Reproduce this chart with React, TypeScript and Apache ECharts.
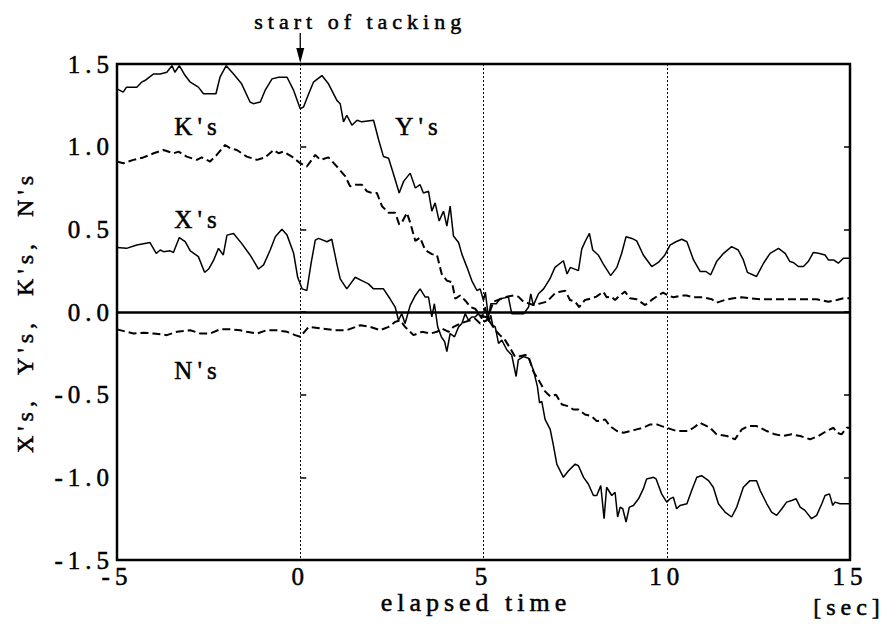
import React, { useEffect, useRef } from 'react';
import * as echarts from 'echarts';

// time [sec] and value pairs
const yData: [number, number][] = [
  [-5, 1.35], [-4.83, 1.33], [-4.74, 1.36], [-4.46, 1.36], [-4.33, 1.39], [-4.24, 1.4], [-4.0, 1.44], [-3.82, 1.44],
  [-3.64, 1.45], [-3.5, 1.49], [-3.42, 1.45], [-3.3, 1.49], [-3.14, 1.43], [-3.0, 1.39], [-2.78, 1.36], [-2.64, 1.32],
  [-2.3, 1.32], [-2.19, 1.42], [-2.02, 1.49], [-1.82, 1.44], [-1.6, 1.38], [-1.37, 1.27], [-1.28, 1.26], [-1.09, 1.27],
  [-0.96, 1.34], [-0.77, 1.41], [-0.59, 1.42], [-0.36, 1.42], [-0.18, 1.34], [0, 1.23], [0.09, 1.24], [0.23, 1.32],
  [0.36, 1.39], [0.59, 1.43], [0.77, 1.38], [1.0, 1.28], [1.09, 1.26], [1.18, 1.15], [1.27, 1.19], [1.41, 1.13],
  [1.55, 1.16], [1.68, 1.15], [2.0, 1.16], [2.14, 1.04], [2.27, 0.94], [2.41, 0.93], [2.55, 0.83], [2.7, 0.72],
  [2.82, 0.79], [3.0, 0.84], [3.14, 0.75], [3.27, 0.77], [3.36, 0.72], [3.5, 0.73], [3.59, 0.61], [3.68, 0.66],
  [3.79, 0.55], [3.91, 0.61], [4.0, 0.52], [4.09, 0.64], [4.18, 0.46], [4.32, 0.42], [4.41, 0.35], [4.55, 0.27],
  [4.68, 0.19], [4.82, 0.13], [4.91, 0.14], [5.0, 0.07], [5.05, 0.12], [5.1, 0.03], [5.15, -0.06], [5.2, -0.02],
  [5.25, -0.08], [5.32, -0.09], [5.41, -0.19], [5.5, -0.17], [5.64, -0.23], [5.77, -0.26], [5.89, -0.39], [5.95, -0.29],
  [6.09, -0.27], [6.23, -0.28], [6.36, -0.35], [6.47, -0.45], [6.53, -0.55], [6.59, -0.54], [6.68, -0.65], [6.82, -0.71],
  [6.91, -0.81], [7.0, -0.92], [7.18, -1.0], [7.32, -0.96], [7.5, -0.92], [7.59, -0.93], [7.73, -1.0], [7.86, -1.04],
  [8.0, -1.11], [8.09, -1.11], [8.2, -1.05], [8.29, -1.25], [8.36, -1.06], [8.5, -1.11], [8.59, -1.09], [8.66, -1.24],
  [8.73, -1.18], [8.8, -1.19], [8.89, -1.27], [8.98, -1.18], [9.09, -1.17], [9.23, -1.13], [9.36, -1.07], [9.45, -1.01],
  [9.64, -1.0], [9.71, -1.01], [9.86, -1.1], [10.0, -1.15], [10.09, -1.13], [10.18, -1.12], [10.27, -1.19], [10.36, -1.17],
  [10.55, -1.16], [10.68, -1.08], [10.82, -1.0], [10.95, -0.99], [11.14, -1.02], [11.27, -1.06], [11.41, -1.16], [11.59, -1.21],
  [11.77, -1.24], [11.91, -1.18], [12.09, -1.06], [12.27, -1.02], [12.45, -1.02], [12.55, -1.08], [12.73, -1.16], [12.86, -1.21],
  [13.0, -1.23], [13.14, -1.19], [13.27, -1.15], [13.41, -1.14], [13.53, -1.13], [13.64, -1.18], [13.77, -1.2], [13.95, -1.25],
  [14.09, -1.23], [14.23, -1.16], [14.32, -1.11], [14.44, -1.1], [14.53, -1.17], [14.59, -1.15], [14.73, -1.16], [15, -1.16],
];

const kData: [number, number][] = [
  [-5, 0.91], [-4.83, 0.9], [-4.55, 0.92], [-4.28, 0.935], [-4.0, 0.96], [-3.73, 0.98], [-3.46, 0.96], [-3.32, 0.97],
  [-3.1, 0.94], [-2.82, 0.92], [-2.69, 0.935], [-2.46, 0.91], [-2.28, 0.95], [-2.05, 1.01], [-1.91, 0.99], [-1.73, 0.98],
  [-1.46, 0.94], [-1.18, 0.92], [-0.96, 0.935], [-0.73, 0.98], [-0.59, 0.96], [-0.46, 0.97], [-0.23, 0.94], [0, 0.9],
  [0.18, 0.88], [0.41, 0.95], [0.55, 0.92], [0.77, 0.935], [1.0, 0.88], [1.23, 0.82], [1.36, 0.76], [1.5, 0.77],
  [1.68, 0.77], [1.82, 0.73], [1.95, 0.72], [2.09, 0.72], [2.23, 0.64], [2.41, 0.6], [2.59, 0.6], [2.7, 0.53],
  [2.77, 0.54], [2.91, 0.6], [3.0, 0.54], [3.14, 0.43], [3.27, 0.45], [3.41, 0.375], [3.59, 0.35], [3.73, 0.345],
  [3.86, 0.23], [4.0, 0.19], [4.14, 0.18], [4.23, 0.08], [4.36, 0.1], [4.5, 0.07], [4.64, 0.03], [4.77, 0.02],
  [4.91, -0.02], [5.05, -0.03], [5.09, -0.03], [5.32, -0.11], [5.45, -0.14], [5.59, -0.17], [5.73, -0.22], [5.86, -0.27],
  [5.95, -0.27], [6.14, -0.26], [6.23, -0.27], [6.36, -0.36], [6.5, -0.41], [6.68, -0.48], [6.82, -0.51], [6.98, -0.5],
  [7.14, -0.56], [7.32, -0.57], [7.45, -0.59], [7.59, -0.59], [7.77, -0.62], [7.95, -0.63], [8.09, -0.66], [8.32, -0.65],
  [8.45, -0.69], [8.64, -0.72], [8.82, -0.73], [9.0, -0.72], [9.18, -0.71], [9.36, -0.7], [9.55, -0.68], [9.73, -0.68],
  [9.86, -0.69], [10.0, -0.7], [10.27, -0.72], [10.59, -0.72], [10.73, -0.7], [10.91, -0.67], [11.18, -0.7], [11.36, -0.74],
  [11.64, -0.75], [11.86, -0.77], [12.05, -0.71], [12.23, -0.69], [12.45, -0.69], [12.73, -0.72], [12.95, -0.74], [13.18, -0.75],
  [13.41, -0.74], [13.64, -0.75], [13.91, -0.77], [14.14, -0.75], [14.36, -0.72], [14.55, -0.7], [14.64, -0.73], [14.77, -0.74],
  [14.91, -0.7], [15, -0.7],
];

const xData: [number, number][] = [
  [-5, 0.39], [-4.74, 0.385], [-4.46, 0.405], [-4.1, 0.42], [-3.93, 0.355], [-3.82, 0.375], [-3.73, 0.365], [-3.55, 0.37],
  [-3.46, 0.36], [-3.3, 0.45], [-3.14, 0.425], [-3.0, 0.37], [-2.78, 0.335], [-2.61, 0.24], [-2.5, 0.26], [-2.37, 0.31],
  [-2.23, 0.385], [-2.1, 0.345], [-2.0, 0.465], [-1.82, 0.475], [-1.6, 0.415], [-1.37, 0.345], [-1.14, 0.26], [-1.0, 0.285],
  [-0.82, 0.375], [-0.68, 0.455], [-0.5, 0.5], [-0.36, 0.465], [-0.18, 0.355], [-0.07, 0.21], [0.05, 0.14], [0.18, 0.13],
  [0.3, 0.3], [0.41, 0.435], [0.5, 0.445], [0.73, 0.425], [0.86, 0.44], [1.0, 0.29], [1.09, 0.2], [1.27, 0.14],
  [1.5, 0.21], [1.68, 0.19], [1.86, 0.17], [2.0, 0.14], [2.18, 0.14], [2.27, 0.14], [2.45, 0.08], [2.59, 0.03],
  [2.68, -0.05], [2.77, -0.01], [2.86, -0.07], [3.0, 0.04], [3.14, 0.1], [3.27, 0.14], [3.41, 0.09], [3.5, 0.09],
  [3.59, -0.03], [3.66, 0.05], [3.75, -0.09], [3.85, -0.15], [3.94, -0.18], [4.0, -0.24], [4.09, -0.13], [4.21, -0.15],
  [4.32, -0.09], [4.41, -0.07], [4.5, -0.01], [4.59, -0.05], [4.68, -0.03], [4.77, -0.03], [4.86, -0.01], [4.95, -0.04],
  [5.05, 0.03], [5.12, -0.05], [5.2, 0.05], [5.35, 0.05], [5.45, 0.08], [5.68, 0.09], [5.77, -0.01], [6.1, -0.01],
  [6.23, 0.03], [6.29, 0.11], [6.36, 0.04], [6.5, 0.11], [6.64, 0.14], [6.81, 0.2], [6.95, 0.27], [7.18, 0.31],
  [7.28, 0.23], [7.37, 0.27], [7.59, 0.25], [7.68, 0.38], [7.77, 0.425], [7.89, 0.475], [7.98, 0.375], [8.13, 0.345],
  [8.27, 0.29], [8.47, 0.22], [8.64, 0.27], [8.77, 0.355], [8.89, 0.455], [9.05, 0.445], [9.18, 0.43], [9.36, 0.345],
  [9.59, 0.275], [9.77, 0.3], [9.95, 0.345], [10.09, 0.405], [10.25, 0.425], [10.41, 0.44], [10.55, 0.425], [10.73, 0.315],
  [10.91, 0.245], [11.07, 0.245], [11.2, 0.225], [11.36, 0.305], [11.55, 0.355], [11.77, 0.395], [11.95, 0.375], [12.09, 0.315],
  [12.2, 0.24], [12.45, 0.215], [12.64, 0.295], [12.82, 0.355], [13.05, 0.385], [13.23, 0.355], [13.36, 0.305], [13.45, 0.3],
  [13.59, 0.275], [13.73, 0.275], [13.86, 0.305], [14.0, 0.36], [14.14, 0.355], [14.32, 0.345], [14.41, 0.315], [14.55, 0.315],
  [14.68, 0.295], [14.82, 0.325], [15, 0.325],
];

const nData: [number, number][] = [
  [-5, -0.105], [-4.74, -0.12], [-4.55, -0.13], [-4.28, -0.125], [-4.0, -0.13], [-3.64, -0.14], [-3.37, -0.12], [-3.0, -0.11],
  [-2.73, -0.13], [-2.46, -0.13], [-2.19, -0.105], [-1.91, -0.105], [-1.64, -0.11], [-1.46, -0.12], [-1.18, -0.13], [-0.91, -0.11],
  [-0.64, -0.11], [-0.36, -0.12], [-0.14, -0.14], [0, -0.15], [0.23, -0.09], [0.59, -0.1], [0.95, -0.11], [1.27, -0.11],
  [1.64, -0.08], [1.91, -0.09], [2.18, -0.11], [2.41, -0.09], [2.59, -0.06], [2.73, -0.05], [2.86, -0.09], [3.09, -0.14],
  [3.32, -0.12], [3.55, -0.13], [3.73, -0.12], [3.86, -0.1], [4.05, -0.12], [4.18, -0.09], [4.36, -0.07], [4.5, -0.06],
  [4.64, -0.05], [4.77, -0.04], [4.91, -0.07], [5.09, -0.05], [5.27, 0.0625], [5.45, 0.077], [5.64, 0.093], [5.82, 0.1],
  [5.95, 0.093], [6.09, 0.0625], [6.23, 0.052], [6.36, 0.042], [6.55, 0.052], [6.73, 0.0625], [6.95, 0.113], [7.09, 0.123],
  [7.23, 0.129], [7.36, 0.073], [7.5, 0.0625], [7.61, 0.03], [7.77, 0.073], [7.95, 0.083], [8.08, 0.093], [8.27, 0.123],
  [8.36, 0.089], [8.49, 0.093], [8.59, 0.073], [8.72, 0.1], [8.86, 0.123], [9.0, 0.083], [9.18, 0.077], [9.41, 0.042],
  [9.59, 0.073], [9.77, 0.1], [9.9, 0.117], [10.04, 0.1], [10.18, 0.089], [10.41, 0.1], [10.54, 0.1], [10.73, 0.089],
  [11.0, 0.089], [11.23, 0.077], [11.36, 0.056], [11.59, 0.073], [11.82, 0.083], [12.04, 0.089], [12.27, 0.083], [12.55, 0.077],
  [12.82, 0.077], [13.18, 0.077], [13.55, 0.077], [13.82, 0.077], [14.09, 0.077], [14.41, 0.0625], [14.64, 0.073], [14.82, 0.083],
  [15, 0.083],
];

const X_MIN = -5;
const X_MAX = 15;
const X_STEP = 5;
const Y_MIN = -1.5;
const Y_MAX = 1.5;
const Y_STEP = 0.5;
const TACK_START = 0;

const FONT = 'Liberation Serif';
const INK = { textBorderColor: '#000', textBorderWidth: 0.5 };

export default function App() {
  const ref = useRef<HTMLDivElement>(null);

  useEffect(() => {
    const el = ref.current!;
    const chart = echarts.init(el, null, { renderer: 'svg' });

    const solid = { color: '#000', width: 1.5, type: 'solid' as const };
    const dashed = { color: '#000', width: 2, type: [8, 4] as any };

    const option: any = {
      animation: false,
      backgroundColor: '#fff',
      grid: {
        left: 117, right: 38, top: 64, bottom: 64,
        show: true, borderColor: '#000', borderWidth: 2.5, backgroundColor: 'transparent',
      },
      xAxis: {
        type: 'value', min: X_MIN, max: X_MAX, interval: X_STEP,
        axisLine: { show: false },
        axisTick: { show: false },
        axisLabel: { color: '#000', fontFamily: FONT, fontSize: 25, margin: 4, ...INK },
        splitLine: { show: true, lineStyle: { color: '#000', width: 1, type: [2, 2] } },
      },
      yAxis: [
        {
          type: 'value', min: Y_MIN, max: Y_MAX, interval: Y_STEP, position: 'left',
          axisLine: { show: false },
          axisTick: { show: true, inside: true, length: 6, lineStyle: { color: '#000', width: 1.5 } },
          axisLabel: { color: '#000', fontFamily: FONT, fontSize: 25, margin: 3, formatter: (v: number) => v.toFixed(1), ...INK },
          splitLine: { show: false },
          name: "X's,  Y's,  K's,  N's",
          nameLocation: 'middle', nameRotate: 90, nameGap: 80,
          nameTextStyle: { color: '#000', fontFamily: FONT, fontSize: 24, ...INK },
        },
        {
          type: 'value', min: Y_MIN, max: Y_MAX, interval: Y_STEP, position: 'right',
          axisLine: { show: false },
          axisTick: { show: true, inside: true, length: 6, lineStyle: { color: '#000', width: 1.5 } },
          axisLabel: { show: false },
          splitLine: { show: false },
        },
      ],
      series: [
        {
          name: "Y's", type: 'line', data: yData, showSymbol: false, symbol: 'none', lineStyle: solid,
          markLine: {
            silent: true, symbol: ['none', 'none'], label: { show: false },
            lineStyle: { color: '#000', width: 2.5, type: 'solid' },
            data: [{ yAxis: 0 }],
          },
        },
        { name: "K's", type: 'line', data: kData, showSymbol: false, symbol: 'none', lineStyle: dashed },
        { name: "X's", type: 'line', data: xData, showSymbol: false, symbol: 'none', lineStyle: solid },
        { name: "N's", type: 'line', data: nData, showSymbol: false, symbol: 'none', lineStyle: dashed },
      ],
    };
    chart.setOption(option);

    const top = chart.convertToPixel({ gridIndex: 0 }, [TACK_START, Y_MAX]) as number[];
    const ax = top[0];
    const ay = top[1];
    const txt = (text: string, x: number, y: number, size: number) => ({
      type: 'text', x, y, silent: true,
      style: {
        text, fill: '#000', fontFamily: FONT, fontSize: size,
        stroke: '#000', lineWidth: 0.5,
        textAlign: 'center', textVerticalAlign: 'middle', align: 'center', verticalAlign: 'middle',
      },
    });
    chart.setOption({
      graphic: [
        txt('start of tacking', ax + 60, 21, 22),
        { type: 'line', silent: true, shape: { x1: ax, y1: 33, x2: ax, y2: ay - 12 }, style: { stroke: '#000', lineWidth: 1.3 } },
        { type: 'polygon', silent: true, shape: { points: [[ax - 4, ay - 16], [ax + 4, ay - 16], [ax, ay - 1]] }, style: { fill: '#000' } },
        txt("K's", 198, 126, 25),
        txt("X's", 198, 219, 25),
        txt("Y's", 419, 126, 25),
        txt("N's", 198, 370, 25),
        txt('elapsed time', 476, 602, 26),
        txt('[sec]', 849, 607, 24),
      ],
    });

    const spacing = () => {
      el.querySelectorAll('text').forEach((t) => t.setAttribute('letter-spacing', '5'));
    };
    spacing();
    chart.on('finished', spacing);

    return () => {
      chart.dispose();
    };
  }, []);

  return <div ref={ref} style={{ position: 'absolute', left: 0, top: 0, width: 888, height: 624 }} />;
}
